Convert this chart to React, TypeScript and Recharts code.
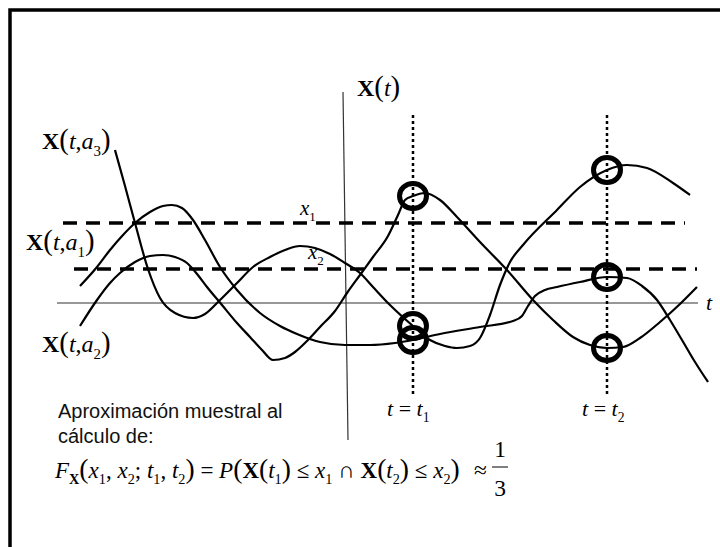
import React from 'react';
import { LineChart, Line, XAxis, YAxis, ReferenceLine, Customized } from 'recharts';

// Sample paths of the process, t in time units, v = X(t, a_i)
const T1 = 6.7;
const T2 = 26.1;
const X1_LEVEL = 8.0;
const X2_LEVEL = 3.4;

const a3T = [-23.1, -22.1, -21.1, -19.8, -18.6, -17.1, -15.3, -14.1, -12.6, -10.9, -9.3, -7.6, -6.1, -4.6, -3.1, -1.6, -0.1, 1.4, 2.7, 4.4, 6.7, 8.4, 9.9, 11.1, 12.4, 13.4, 14.4, 15.4, 16.4, 17.7, 21.1, 23.4, 26.1, 28.1, 30.1, 32.7, 34.4];
const a3V = [15.3, 11.7, 8.0, 3.4, 0.5, -1.0, -1.5, -1.1, 0.3, 2.0, 3.6, 4.6, 5.3, 5.7, 5.5, 4.9, 4.0, 3.0, 1.6, -0.2, -2.3, -3.7, -4.3, -4.5, -4.3, -3.5, -1.2, 1.8, 4.1, 5.8, 9.3, 11.6, 13.3, 13.8, 13.5, 12.0, 10.8];

const a1T = [-26.6, -24.9, -23.6, -22.3, -21.1, -19.6, -18.3, -17.4, -16.4, -15.3, -14.1, -12.6, -10.9, -8.6, -6.6, -4.9, -2.6, -0.1, 2.4, 4.9, 6.7, 9.4, 13.4, 16.7, 17.6, 18.2, 18.9, 19.9, 21.1, 23.4, 26.1, 28.1, 29.6, 31.1, 32.4, 33.6, 34.9, 36.2];
const a1V = [1.7, 3.6, 5.3, 6.8, 8.0, 9.1, 9.7, 9.8, 9.5, 8.3, 6.3, 3.6, 1.3, -1.0, -2.3, -3.1, -3.9, -4.2, -4.2, -4.0, -3.7, -3.1, -2.4, -1.8, -1.3, -0.3, 0.7, 1.3, 1.6, 2.1, 2.6, 2.5, 1.7, 0.3, -1.7, -3.7, -5.9, -7.9];

const a2T = [-26.6, -24.9, -23.6, -22.6, -21.1, -19.6, -18.3, -17.1, -15.9, -14.9, -13.9, -12.4, -10.9, -9.6, -8.4, -7.3, -6.1, -5.1, -3.9, -2.6, -1.1, 0.1, 1.4, 2.7, 4.2, 5.2, 5.9, 6.7, 7.9, 9.4, 11.1, 13.4, 16.1, 18.7, 20.7, 22.7, 24.4, 26.1, 27.7, 29.4, 31.4, 33.4, 35.1];
const a2V = [-2.3, 0.3, 2.0, 3.0, 4.1, 4.7, 4.8, 4.6, 4.0, 2.9, 1.6, -0.2, -2.0, -3.4, -4.7, -5.7, -5.5, -4.9, -3.8, -2.4, -0.8, 1.0, 2.8, 4.6, 6.7, 8.8, 10.3, 10.7, 11.0, 10.3, 8.6, 6.1, 3.3, 0.3, -1.7, -3.4, -4.2, -4.5, -4.4, -3.5, -1.9, -0.1, 1.6];

const toPoints = (ts: number[], vs: number[]) => ts.map((t, i) => ({ t, v: vs[i] }));

const W = 720;
const H = 547;
const SERIF = '"Liberation Serif", "Times New Roman", serif';
const SANS = '"Liberation Sans", Arial, sans-serif';

type Run = { s: string; i?: boolean; b?: boolean; sub?: boolean; big?: boolean };

// text with italic / bold / subscript pieces
function MathText({ x, y, runs, size }: { x: number; y: number; runs: Run[]; size: number }) {
  const off = size * 0.28;
  let inSub = false;
  return (
    <text x={x} y={y} style={{ fontFamily: SERIF }} fontSize={size} fill="#000">
      {runs.map((r, k) => {
        const sub = !!r.sub;
        const dy = sub === inSub ? 0 : sub ? off : -off;
        inSub = sub;
        return (
          <tspan
            key={k}
            dy={dy}
            fontStyle={r.i ? 'italic' : 'normal'}
            fontWeight={r.b ? 'bold' : 'normal'}
            fontSize={sub ? size * 0.62 : r.big ? size * 1.2 : size}
          >
            {r.s}
          </tspan>
        );
      })}
    </text>
  );
}

const pathLabel = (n: string): Run[] => [
  { s: 'X', b: true },
  { s: '(', big: true },
  { s: 't', i: true },
  { s: ',' },
  { s: 'a', i: true },
  { s: n, sub: true },
  { s: ')', big: true },
];

const formula: Run[] = [
  { s: 'F', i: true },
  { s: 'X', b: true, sub: true },
  { s: '(', big: true },
  { s: 'x', i: true },
  { s: '1', sub: true },
  { s: ', ' },
  { s: 'x', i: true },
  { s: '2', sub: true },
  { s: '; ' },
  { s: 't', i: true },
  { s: '1', sub: true },
  { s: ', ' },
  { s: 't', i: true },
  { s: '2', sub: true },
  { s: ')', big: true },
  { s: ' = ' },
  { s: 'P', i: true },
  { s: '(', big: true },
  { s: 'X', b: true },
  { s: '(', big: true },
  { s: 't', i: true },
  { s: '1', sub: true },
  { s: ')', big: true },
  { s: ' ≤ ' },
  { s: 'x', i: true },
  { s: '1', sub: true },
  { s: ' ∩ ' },
  { s: 'X', b: true },
  { s: '(', big: true },
  { s: 't', i: true },
  { s: '2', sub: true },
  { s: ')', big: true },
  { s: ' ≤ ' },
  { s: 'x', i: true },
  { s: '2', sub: true },
  { s: ')', big: true },
];

// ring drawn where a path meets t = t1 or t = t2
const ring = (props: any) => {
  const { cx, cy, payload, index } = props;
  if (payload.t !== T1 && payload.t !== T2) return <g key={`n${index}`} />;
  return <ellipse key={`r${index}`} cx={cx} cy={cy} rx={13.5} ry={12.5} fill="none" stroke="#000" strokeWidth={5} />;
};

const Annotations = () => (
  <g>
    <rect x={10} y={10} width={W + 20} height={H + 20} fill="none" stroke="#000" strokeWidth={3.5} />
    <MathText x={42} y={149} size={24} runs={pathLabel('3')} />
    <MathText x={26} y={250} size={24} runs={pathLabel('1')} />
    <MathText x={42} y={352} size={24} runs={pathLabel('2')} />
    <MathText x={357} y={96} size={24} runs={[{ s: 'X', b: true }, { s: '(', big: true }, { s: 't', i: true }, { s: ')', big: true }]} />
    <MathText x={300} y={215} size={21} runs={[{ s: 'x', i: true }, { s: '1', sub: true }]} />
    <MathText x={308} y={259} size={21} runs={[{ s: 'x', i: true }, { s: '2', sub: true }]} />
    <MathText x={706} y={310} size={22} runs={[{ s: 't', i: true }]} />
    <MathText x={387} y={416} size={22} runs={[{ s: 't', i: true }, { s: ' = ' }, { s: 't', i: true }, { s: '1', sub: true }]} />
    <MathText x={582} y={416} size={22} runs={[{ s: 't', i: true }, { s: ' = ' }, { s: 't', i: true }, { s: '2', sub: true }]} />
    <text x={58} y={418} style={{ fontFamily: SANS }} fontSize={20} fill="#111">Aproximación muestral al</text>
    <text x={58} y={443} style={{ fontFamily: SANS }} fontSize={20} fill="#111">cálculo de:</text>
    <MathText x={55} y={478} size={23} runs={formula} />
    <text x={474} y={478} style={{ fontFamily: SERIF }} fontSize={23.5}>≈</text>
    <text x={500} y={457} style={{ fontFamily: SERIF }} fontSize={23.5} textAnchor="middle">1</text>
    <line x1={492} x2={508} y1={467} y2={467} stroke="#000" strokeWidth={1} />
    <text x={500} y={496} style={{ fontFamily: SERIF }} fontSize={23.5} textAnchor="middle">3</text>
  </g>
);

export default function App() {
  const paths = [toPoints(a3T, a3V), toPoints(a1T, a1V), toPoints(a2T, a2V)];
  return (
    <div style={{ position: 'absolute', left: 0, top: 0, background: '#fff' }}>
      <LineChart width={W} height={H} margin={{ top: 0, right: 0, bottom: 0, left: 0 }}>
        <XAxis type="number" dataKey="t" domain={[-34.6, 37.4]} allowDataOverflow hide />
        <YAxis type="number" dataKey="v" domain={[-24.4, 30.3]} allowDataOverflow hide />
        {/* axes */}
        <ReferenceLine segment={[{ x: -28.9, y: 0 }, { x: 35.2, y: 0 }]} stroke="#333" strokeWidth={1.2} />
        <ReferenceLine segment={[{ x: -0.3, y: 21.1 }, { x: 0.2, y: -13.7 }]} stroke="#333" strokeWidth={1.2} />
        {/* levels x1, x2 */}
        <ReferenceLine segment={[{ x: -28.3, y: X1_LEVEL }, { x: 33.9, y: X1_LEVEL }]} stroke="#000" strokeWidth={3.5} strokeDasharray="14 9" />
        <ReferenceLine segment={[{ x: -27.2, y: X2_LEVEL }, { x: 35.1, y: X2_LEVEL }]} stroke="#000" strokeWidth={3.5} strokeDasharray="14 9" />
        {/* sampling instants */}
        <ReferenceLine segment={[{ x: T1, y: 18.8 }, { x: T1, y: -9.2 }]} stroke="#000" strokeWidth={2.5} strokeDasharray="3 3" />
        <ReferenceLine segment={[{ x: T2, y: 18.8 }, { x: T2, y: -9.2 }]} stroke="#000" strokeWidth={2.5} strokeDasharray="3 3" />
        {paths.map((d, i) => (
          <Line
            key={i}
            data={d}
            dataKey="v"
            type="monotone"
            stroke="#000"
            strokeWidth={2.2}
            dot={ring}
            activeDot={false}
            isAnimationActive={false}
          />
        ))}
        <Customized component={Annotations} />
      </LineChart>
    </div>
  );
}
